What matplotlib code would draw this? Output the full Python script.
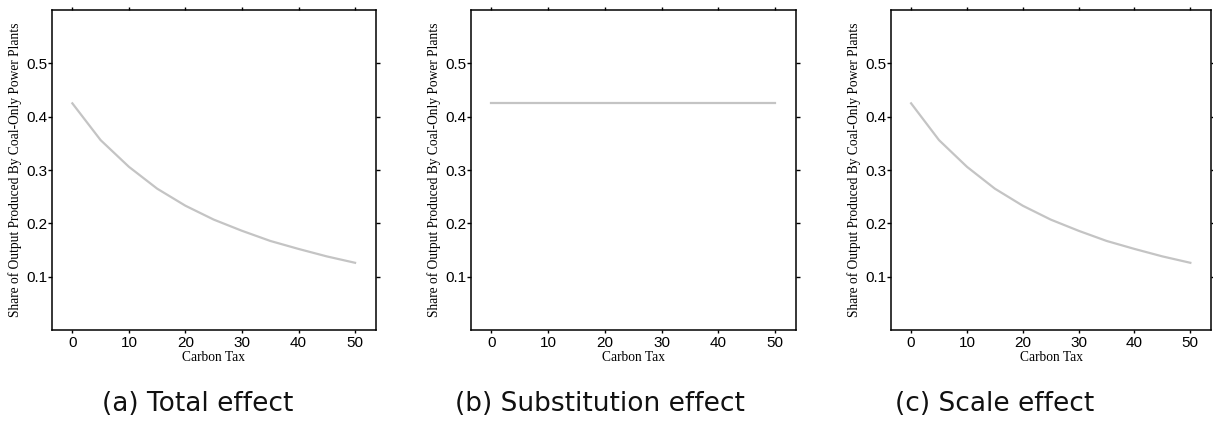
import matplotlib.pyplot as plt

# valores
carbon_tax = [0, 5, 10, 15, 20, 25, 30, 35, 40, 45, 50]
total_effect = [0.425, 0.356, 0.306, 0.265, 0.233, 0.207, 0.186, 0.167, 0.152, 0.138, 0.126]
substitution_effect = [0.425, 0.425, 0.425, 0.425, 0.425, 0.425, 0.425, 0.425, 0.425, 0.425, 0.425]
scale_effect = [0.425, 0.356, 0.306, 0.265, 0.233, 0.207, 0.186, 0.167, 0.152, 0.138, 0.126]

captions = ["(a) Total effect", "(b) Substitution effect", "(c) Scale effect"]
series = [total_effect, substitution_effect, scale_effect]

W, H = 1213, 424
fig = plt.figure(figsize=(W / 100, H / 100), dpi=100)

# posiciones en pixeles (izq, der) de cada panel
lefts = [52, 471, 891]
rights = [376, 796, 1211]
top, bottom = 10, 330
caption_x = [198, 600, 995]

for i in range(3):
    ax = fig.add_axes([lefts[i] / W, 1 - bottom / H, (rights[i] - lefts[i]) / W, (bottom - top) / H])
    ax.plot(carbon_tax, series[i], color="#c4c4c4", linewidth=1.6)
    ax.set_xlim(-3.6, 53.7)
    ax.set_ylim(0, 0.6)
    ax.set_xticks([0, 10, 20, 30, 40, 50])
    ax.set_yticks([0.1, 0.2, 0.3, 0.4, 0.5])
    ax.set_yticklabels(["0.1", "0.2", "0.3", "0.4", "0.5"])
    for s in ax.spines.values():
        s.set_linewidth(1.1)
    ax.tick_params(axis="x", bottom=True, top=True, direction="out", length=2.5, width=1,
                   labelsize=11, pad=1.5)
    ax.tick_params(axis="y", left=True, right=True, direction="out", length=3, width=1,
                   labelsize=11, pad=0.5)
    for lab in ax.get_xticklabels() + ax.get_yticklabels():
        lab.set_fontfamily("Liberation Sans")
    ax.set_xlabel("Carbon Tax", fontfamily="Liberation Serif", fontsize=9.75, labelpad=1)
    ax.set_ylabel("Share of Output Produced By Coal-Only Power Plants",
                  fontfamily="Liberation Serif", fontsize=9.75, labelpad=3)
    fig.text(caption_x[i] / W, 1 - 404 / H, captions[i], ha="center", va="center",
             fontsize=19, fontfamily="DejaVu Sans", color="#111111")

fig.savefig("out.png", dpi=100)
